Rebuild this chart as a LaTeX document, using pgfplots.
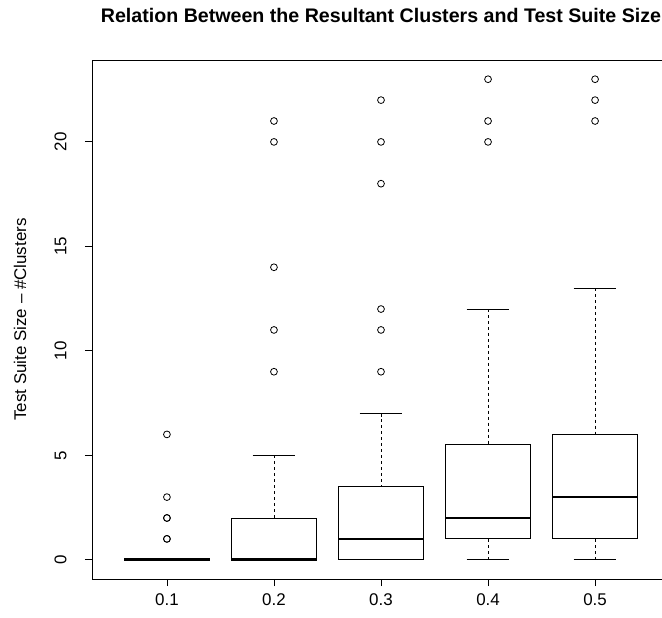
\documentclass[border=0pt]{standalone}
\usepackage{pgfplots}
\pgfplotsset{compat=1.18}
\usepgfplotslibrary{statistics}
\usepackage{fontspec}
\setmainfont{Liberation Sans}
\begin{document}
\begin{tikzpicture}[x=1bp,y=1bp]
\begin{axis}[
  at={(0,0)}, anchor=south west,
  scale only axis, width=578bp, height=519bp,
  xmin=0.3, xmax=5.7, ymin=-0.92, ymax=23.92,
  xtick={1,2,3,4,5}, xticklabels={0.1,0.2,0.3,0.4,0.5},
  ytick={0,5,10,15,20},
  tick pos=left, tick align=outside,
  major tick length=7bp,
  tick style={line width=0.8bp, black},
  axis line style={line width=0.8bp},
  /pgf/number format/assume math mode=true,
  ticklabel style={font=\fontsize{17}{19}\selectfont},
  yticklabel style={rotate=90, anchor=south},
  yticklabel shift=15bp,
  xticklabel shift=4bp,
  ylabel={Test Suite Size -- \#Clusters},
  ylabel style={font=\fontsize{17}{19}\selectfont, at={(axis description cs:0,0.5)}, anchor=center, yshift=72bp},
  title={\textbf{Relation Between the Resultant Clusters and Test Suite Size}},
  title style={font=\fontsize{19.7}{22}\selectfont, yshift=28bp},
  boxplot/draw direction=y,
  boxplot/box extend=0.8,
  boxplot/whisker extend=0.4,
  boxplot/every median/.style={line width=2.6bp},
  boxplot/draw/lower whisker/.code={
    \draw[dashed, line width=0.8bp] (boxplot cs:\pgfplotsboxplotvalue{lower whisker}) -- (boxplot cs:\pgfplotsboxplotvalue{lower quartile});
    \draw[line width=0.8bp] (boxplot whisker cs:\pgfplotsboxplotvalue{lower whisker},0) -- (boxplot whisker cs:\pgfplotsboxplotvalue{lower whisker},1);
  },
  boxplot/draw/upper whisker/.code={
    \draw[dashed, line width=0.8bp] (boxplot cs:\pgfplotsboxplotvalue{upper whisker}) -- (boxplot cs:\pgfplotsboxplotvalue{upper quartile});
    \draw[line width=0.8bp] (boxplot whisker cs:\pgfplotsboxplotvalue{upper whisker},0) -- (boxplot whisker cs:\pgfplotsboxplotvalue{upper whisker},1);
  },
  bx/.style={black, line width=0.8bp, mark=o, mark size=3.4bp, mark options={line width=0.8bp, solid, black}},
]
\addplot[bx, boxplot prepared={draw position=1, lower whisker=0, lower quartile=0, median=0, upper quartile=0, upper whisker=0}]
  table[row sep=\\, y index=0] {1\\1\\2\\2\\3\\6\\};
\addplot[bx, boxplot prepared={draw position=2, lower whisker=0, lower quartile=0, median=0, upper quartile=2, upper whisker=5}]
  table[row sep=\\, y index=0] {9\\11\\14\\20\\21\\};
\addplot[bx, boxplot prepared={draw position=3, lower whisker=0, lower quartile=0, median=1, upper quartile=3.5, upper whisker=7}]
  table[row sep=\\, y index=0] {9\\11\\12\\18\\20\\22\\};
\addplot[bx, boxplot prepared={draw position=4, lower whisker=0, lower quartile=1, median=2, upper quartile=5.5, upper whisker=12}]
  table[row sep=\\, y index=0] {20\\21\\23\\};
\addplot[bx, boxplot prepared={draw position=5, lower whisker=0, lower quartile=1, median=3, upper quartile=6, upper whisker=13}]
  table[row sep=\\, y index=0] {21\\22\\23\\};
\end{axis}
\pgfresetboundingbox
\useasboundingbox (-92bp,-39bp) rectangle (570bp,579bp);
\end{tikzpicture}
\end{document}
